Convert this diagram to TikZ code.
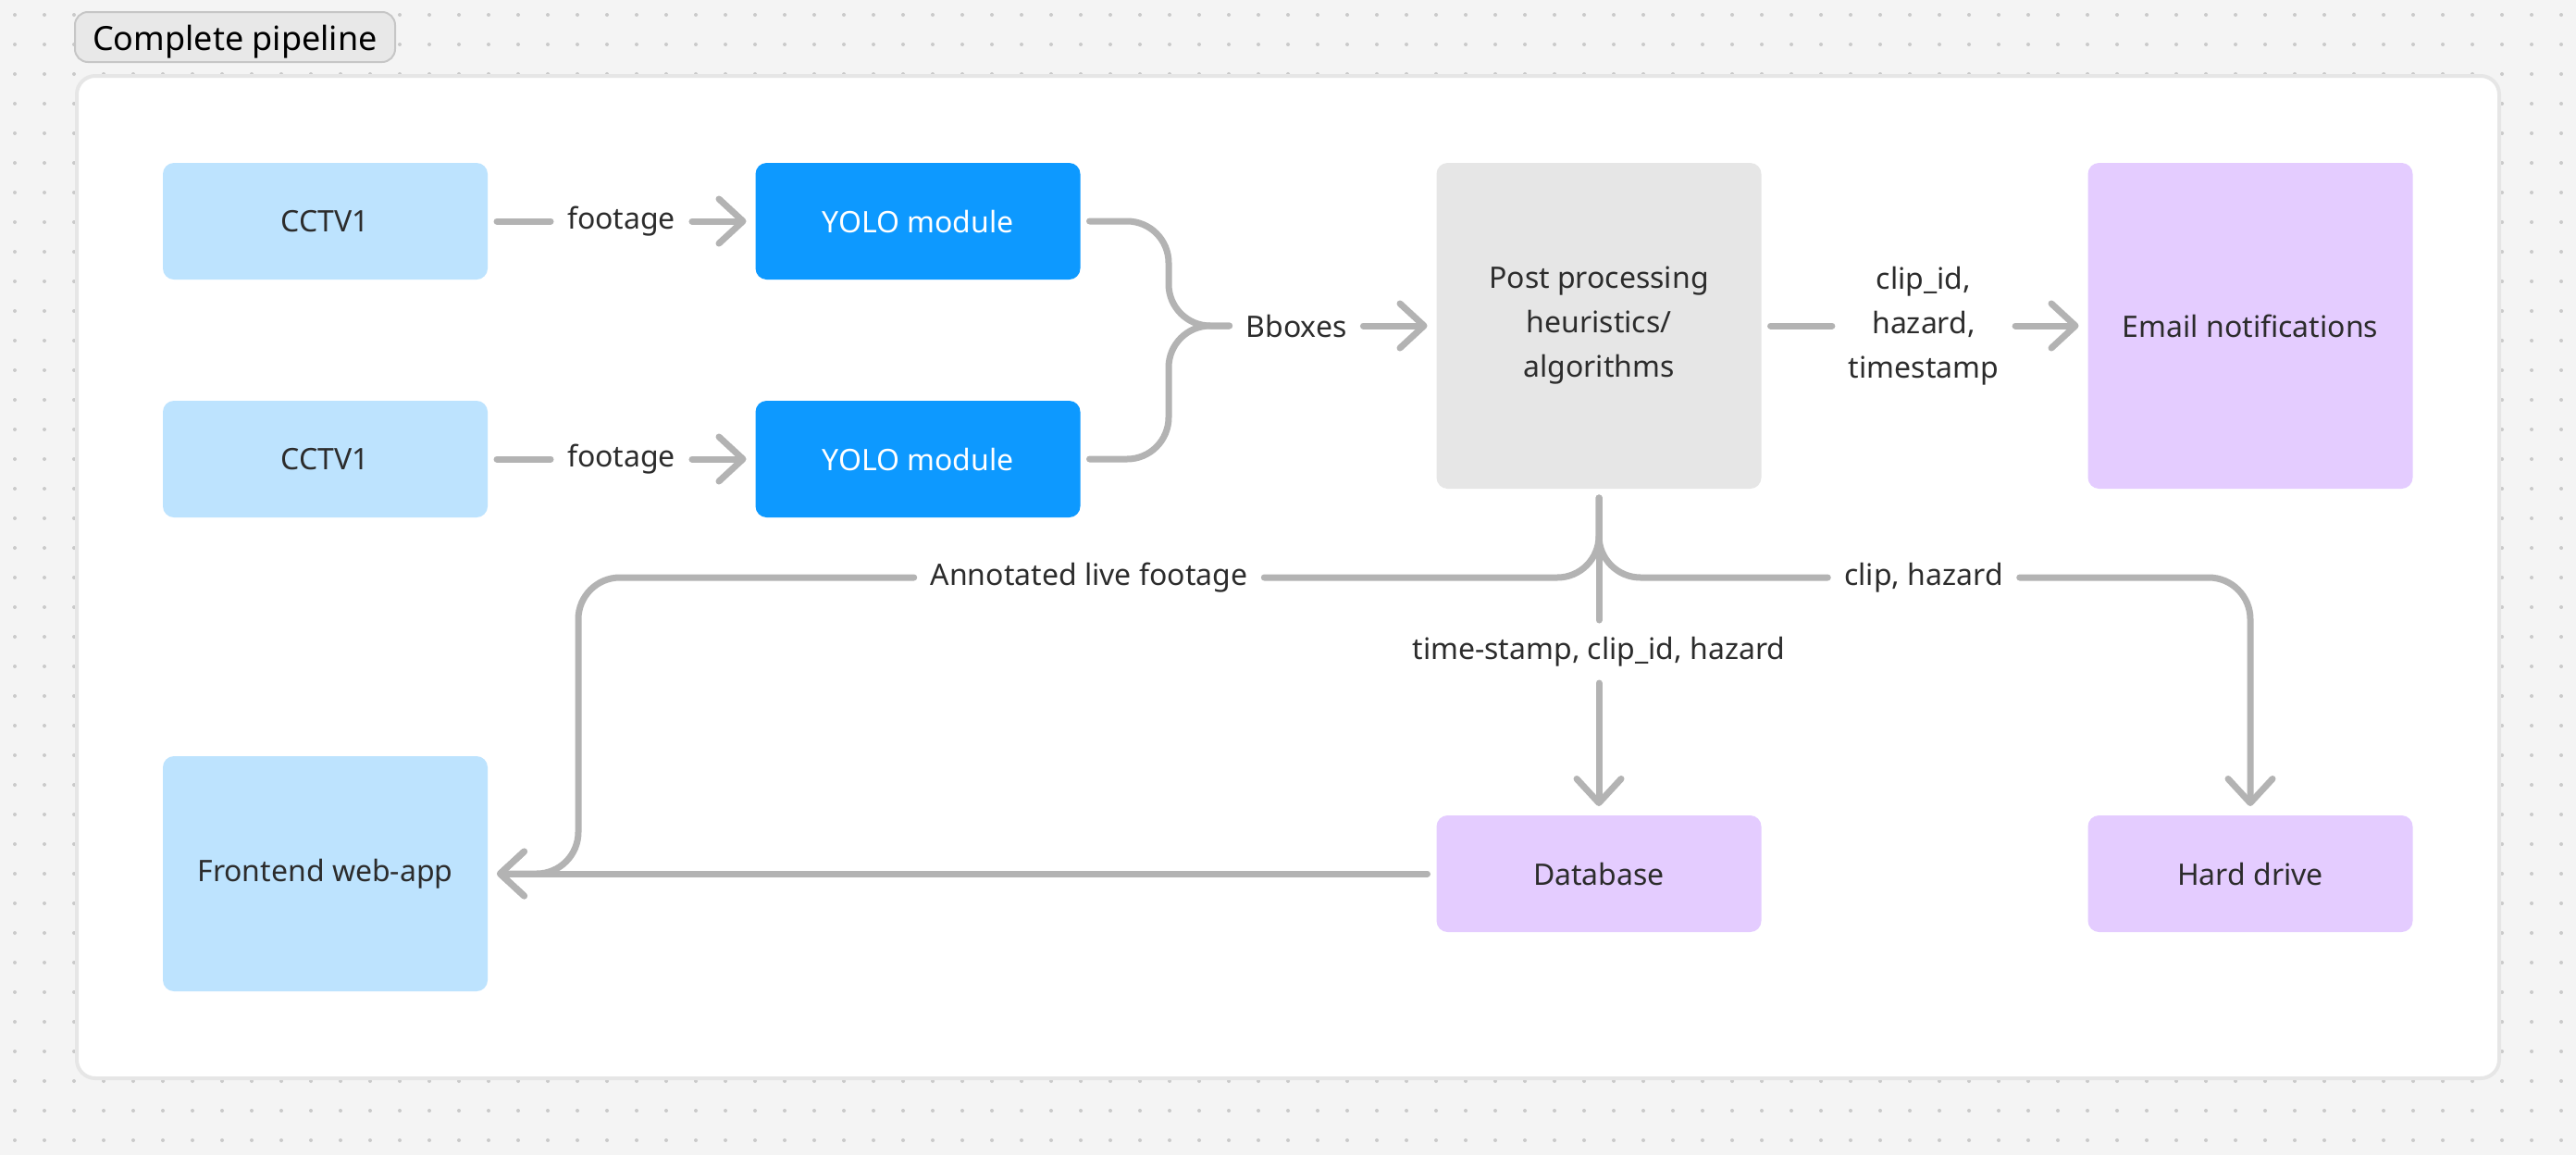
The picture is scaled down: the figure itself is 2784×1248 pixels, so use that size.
\documentclass[tikz,border=0pt]{standalone}
\usepackage{fontspec}
\setmainfont{Noto Sans}
\usetikzlibrary{arrows.meta}
\definecolor{bgc}{HTML}{F4F4F4}
\definecolor{dotc}{HTML}{CACACA}
\definecolor{framec}{HTML}{E6E6E6}
\definecolor{lbluec}{HTML}{BDE3FE}
\definecolor{yoloc}{HTML}{0D99FF}
\definecolor{postc}{HTML}{E6E6E6}
\definecolor{violc}{HTML}{E4CCFF}
\definecolor{connc}{HTML}{B3B3B3}
\definecolor{txtc}{HTML}{2C2C2C}
\definecolor{titlec}{HTML}{E8E8E8}
\definecolor{titled}{HTML}{C6C6C6}
\begin{document}
\begin{tikzpicture}[x=0.5pt,y=-0.5pt,
  box/.style={rounded corners=6pt, inner sep=0pt, outer sep=5pt,
    minimum width=175.5pt, minimum height=63pt, align=center,
    font=\fontsize{16}{24}\selectfont, text=txtc},
  camc/.style={box, fill=lbluec},
  yolobox/.style={box, fill=yoloc, text=white},
  postbox/.style={box, fill=postc, minimum height=176pt},
  outbox/.style={box, fill=violc},
  lab/.style={inner sep=0pt, outer sep=9pt, align=center,
    font=\fontsize{16}{24}\selectfont, text=txtc},
  conn/.style={draw=connc, line width=3.5pt, line cap=round, line join=round},
  arr/.style={conn, -{Straight Barb[length=13pt,width=24pt,round]}},
  rc/.style={rounded corners=22.5pt}
]
\useasboundingbox (0,0) rectangle (2784,1248);
\fill[bgc] (0,0) rectangle (2784,1248);
\foreach \i in {0,...,86} {
  \foreach \j in {0,...,38} {
    \fill[dotc] (16+32*\i,16+32*\j) circle (1pt);
  }
}
% container
\draw[framec, line width=2pt, fill=white, rounded corners=10pt] (83,82) rectangle (2701,1165);
% title
\node[draw=titled, line width=1pt, fill=titlec, rounded corners=7pt,
  minimum width=173pt, minimum height=27pt, inner sep=0pt,
  text height=14.5pt, text depth=0pt,
  font=\fontsize{18}{22}\selectfont, text=black] (ttl) at (254,40) {Complete pipeline};

% boxes
\node[camc] (cctva) at (351.5,239) {CCTV1};
\node[camc] (cctvb) at (351.5,496) {CCTV1};
\node[yolobox] (yoloa) at (992,239) {YOLO module};
\node[yolobox] (yolob) at (992,496) {YOLO module};
\node[postbox] (post) at (1728,352) {Post processing\\heuristics/\\algorithms};
\node[outbox, minimum height=176pt] (email) at (2432,352) {Email notifications};
\node[camc, minimum height=127pt] (front) at (351.5,944) {Frontend web-app};
\node[outbox] (db) at (1728,944) {Database};
\node[outbox] (hd) at (2432,944) {Hard drive};

% labels
\node[lab] (fa) at (671.5,239) {footage};
\node[lab] (fb) at (671.5,496) {footage};
\node[lab] (bb) at (1401,352) {Bboxes};
\node[lab] (em) at (2079,352) {clip\_id,\\hazard,\\timestamp};
\node[lab] (ann) at (1177,624) {Annotated live footage};
\node[lab] (clip) at (2079,624) {clip, hazard};
\node[lab] (ts) at (1728,704) {time-stamp, clip\_id, hazard};

\coordinate (mg) at (1263,352);
\coordinate (fc) at (625,944);

% connectors
\draw[conn] (cctva.east) -- (fa.west);
\draw[arr] (fa.east) -- (yoloa.west);
\draw[conn] (cctvb.east) -- (fb.west);
\draw[arr] (fb.east) -- (yolob.west);
\draw[conn, rc] (yoloa.east) -| (mg) -- (bb.west);
\draw[conn, rc] (yolob.east) -| (mg) -- (bb.west);
\draw[arr] (bb.east) -- (post.west);
\draw[conn] (post.east) -- (em.west);
\draw[arr] (em.east) -- (email.west);
\draw[conn, rc] (post.south) |- (ann.east);
\draw[conn, rc] (post.south) |- (clip.west);
\draw[conn] (post.south) -- (ts.north);
\draw[arr] (ts.south) -- (db.north);
\draw[arr, rc] (clip.east) -| (hd.north);
\draw[arr, rc] (ann.west) -| (fc) -- (front.east);
\draw[arr] (db.west) -- (front.east);
\end{tikzpicture}
\end{document}
